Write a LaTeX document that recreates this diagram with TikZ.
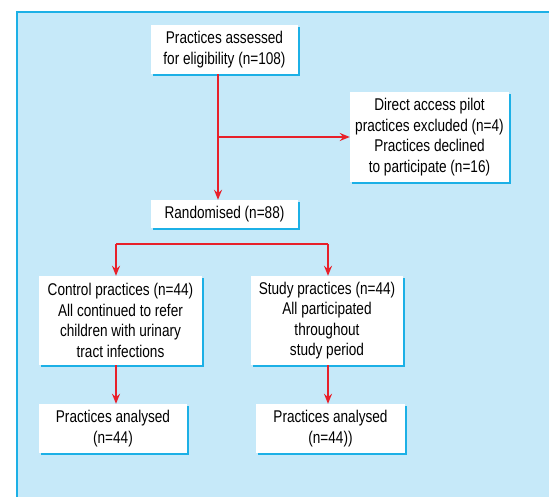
\documentclass[tikz,border=0pt]{standalone}
\usepackage{fontspec}
\setmainfont{Liberation Sans}[FakeStretch=0.8]
\usetikzlibrary{arrows.meta,shadows,calc}
\definecolor{panelfill}{HTML}{C6E9F9}
\definecolor{panelline}{HTML}{1CB0E6}
\definecolor{arrred}{HTML}{E8202A}
\tikzset{
  flowbox/.style={fill=white, inner sep=0pt, align=center,
    font=\fontsize{17}{20.5}\selectfont,
    drop shadow={shadow xshift=2pt, shadow yshift=-2pt, fill=panelline, opacity=1}},
  arr/.style={draw=arrred, line width=1.5pt, -{Stealth[length=10pt,width=8pt]}},
  plainline/.style={draw=arrred, line width=1.5pt}
}
\begin{document}
\begin{tikzpicture}[x=1pt,y=-1pt]
\useasboundingbox (0,0) rectangle (549,497);
\fill[panelfill] (17,12) rectangle (549,497);
\draw[panelline, line width=1.5pt] (17,497) -- (17,12) -- (549,12);

\node[flowbox, minimum width=147pt, minimum height=49pt] (b1) at (224.5,49.5)
  {Practices assessed\\ for eligibility (n=108)};
\node[flowbox, minimum width=159pt, minimum height=90pt] (b2) at (429.5,137)
  {Direct access pilot\\ practices excluded (n=4)\\ Practices declined\\ to participate (n=16)};
\node[flowbox, minimum width=147pt, minimum height=28pt] (b3) at (224.5,214)
  {Randomised (n=88)};
\node[flowbox, minimum width=163pt, minimum height=89pt] (ctrl) at (120.5,320.5)
  {Control practices (n=44)\\ All continued to refer\\ children with urinary\\ tract infections};
\node[flowbox, minimum width=152pt, minimum height=89pt] (study) at (327,320.5)
  {Study practices (n=44)\\ All participated\\ throughout\\ study period};
\node[flowbox, minimum width=148pt, minimum height=49pt] (an1) at (113,428.5)
  {Practices analysed\\ (n=44)};
\node[flowbox, minimum width=149pt, minimum height=49pt] (an2) at (330.5,428.5)
  {Practices analysed\\ (n=44))};

\draw[arr] ([xshift=-6.5pt]b1.south) -- ([xshift=-6.5pt]b3.north);
\draw[arr] ([xshift=-6.5pt]b1.south |- b2.west) -- (b2.west);

\coordinate (sl) at (116,244);
\coordinate (sr) at (328,244);
\draw[plainline] (sl) -- (sr);
\draw[arr] (sl) -- (sl |- ctrl.north);
\draw[arr] (sr) -- (sr |- study.north);
\draw[arr] (sl |- ctrl.south) -- (sl |- an1.north);
\draw[arr] (sr |- study.south) -- (sr |- an2.north);
\end{tikzpicture}
\end{document}
